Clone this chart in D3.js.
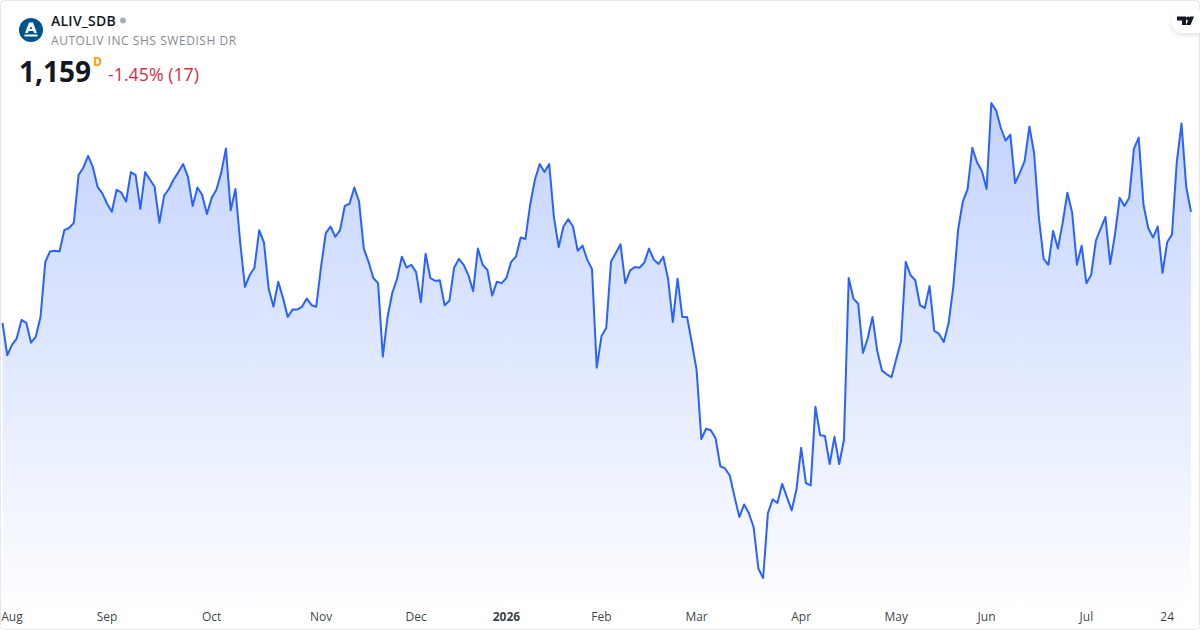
<!DOCTYPE html>
<html>
<head>
<meta charset="utf-8">
<title>ALIV_SDB</title>
<script src="https://cdn.jsdelivr.net/npm/d3@7"></script>
<style>
  html, body { margin: 0; padding: 0; background: #fff; }
  svg { display: block; font-family: "Open Sans", sans-serif; }
</style>
</head>
<body>
<div id="chart"></div>
<script>
// closing prices, one per trading day
var prices = [
  1083.5, 1061.5, 1068.5, 1073, 1085.5, 1083.5, 1070, 1074, 1087.5, 1125, 1132, 1132.5, 1132, 1146.5, 1148, 1151.5,
  1184, 1189, 1197, 1189.5, 1176, 1171.5, 1164.5, 1159, 1174, 1172, 1166, 1186, 1184, 1161, 1186, 1181,
  1176, 1151.5, 1170, 1174.5, 1181, 1186, 1191.5, 1183, 1163, 1175.5, 1170.5, 1157.5, 1168.5, 1174, 1185.5, 1202,
  1160, 1174.5, 1138, 1108, 1116, 1121, 1146.5, 1138, 1106.5, 1094.5, 1111.5, 1100.5, 1087.5, 1092.5, 1092.5,
  1094.5, 1100, 1095.5, 1094.5, 1121.5, 1144.5, 1149, 1142, 1146.5, 1163, 1164.5, 1175.5, 1166, 1134, 1125, 1114,
  1110.5, 1060.5, 1087.5, 1104, 1113.5, 1128.5, 1121, 1123, 1118, 1097.5, 1130.5, 1114, 1112, 1112.5, 1095.5, 1098.5,
  1121, 1127, 1123, 1116, 1105, 1134, 1123, 1119.5, 1102, 1111.5, 1110.5, 1114, 1125, 1128.5, 1141.5, 1140.5,
  1164, 1181, 1191.5, 1186, 1191.5, 1155, 1135, 1149, 1154, 1149, 1132.5, 1136, 1126.5, 1120, 1053,
  1074.5, 1080, 1125, 1131, 1137, 1110.5, 1119, 1121.5, 1121, 1124.5, 1134, 1126.5, 1123.5, 1128.5, 1113.5, 1084,
  1113.5, 1087.5, 1087.5, 1070, 1051.5, 1004.5, 1011.5, 1010.5, 1005, 986, 984.5, 979.5, 965, 951.5, 960, 954,
  944.5, 916.5, 910, 954, 963.5, 961, 974, 965, 956, 970, 998.5, 974.5, 973, 1026.5, 1007, 1006.5,
  987.5, 1006, 987.5, 1004, 1114, 1100, 1096.5, 1063, 1073, 1087.5, 1064.5, 1051, 1048.5,
  1046.5, 1059, 1071, 1125, 1116, 1112.5, 1095.5, 1093.5, 1108.5, 1078, 1076, 1070.5, 1083, 1108, 1146.5, 1166,
  1174.5, 1202.5, 1192.5, 1187, 1174.5, 1233, 1228, 1216, 1207.5, 1211.5, 1178.5, 1185.5, 1193.5, 1217, 1199, 1155,
  1127, 1123, 1146, 1134, 1151.5, 1172, 1158.5, 1123, 1136, 1110.5, 1116, 1139.5, 1147.5, 1155.5, 1123.5, 1143.5,
  1168.5, 1163, 1168.5, 1202, 1209.5, 1164, 1148, 1141.5, 1149, 1117.5, 1138.5, 1143.5, 1192.5, 1219, 1176, 1159
];

// trading day index of each time axis label
var tickDays = [2, 22, 44, 67, 87, 106, 126, 146, 168, 188, 207, 228, 245];
var tickLabels = ['Aug', 'Sep', 'Oct', 'Nov', 'Dec', '2026', 'Feb', 'Mar', 'Apr', 'May', 'Jun', 'Jul', '24'];

var WIDTH = 1200;
var HEIGHT = 630;
var LINE_COLOR = '#2962ff';

var x = d3.scaleLinear()
  .domain([0, prices.length - 1])
  .range([2.5, 1191]);

var y = d3.scaleLinear()
  .domain([910, 1233])
  .range([578, 103]);

var svg = d3.select('#chart').append('svg')
  .attr('width', WIDTH)
  .attr('height', HEIGHT);

var defs = svg.append('defs');

var gradient = defs.append('linearGradient')
  .attr('id', 'fill')
  .attr('gradientUnits', 'userSpaceOnUse')
  .attr('x1', 0).attr('x2', 0)
  .attr('y1', 103).attr('y2', 603);
gradient.append('stop').attr('offset', 0)
  .attr('stop-color', LINE_COLOR).attr('stop-opacity', 0.28);
gradient.append('stop').attr('offset', 1)
  .attr('stop-color', LINE_COLOR).attr('stop-opacity', 0.01);

var shadow = defs.append('filter')
  .attr('id', 'pill-shadow')
  .attr('x', '-30%').attr('y', '-30%')
  .attr('width', '160%').attr('height', '180%');
shadow.append('feDropShadow')
  .attr('dx', 0).attr('dy', 2).attr('stdDeviation', 2)
  .attr('flood-color', '#000').attr('flood-opacity', 0.12);

var area = d3.area()
  .x(function (d, i) { return x(i); })
  .y0(603)
  .y1(function (d) { return y(d); });

var line = d3.line()
  .x(function (d, i) { return x(i); })
  .y(function (d) { return y(d); });

svg.append('path')
  .datum(prices)
  .attr('d', area)
  .attr('fill', 'url(#fill)');

svg.append('path')
  .datum(prices)
  .attr('d', line)
  .attr('fill', 'none')
  .attr('stroke', LINE_COLOR)
  .attr('stroke-width', 2)
  .attr('stroke-linejoin', 'round');

// time axis
var axis = d3.axisBottom(x)
  .tickValues(tickDays)
  .tickFormat(function (d, i) { return tickLabels[i]; })
  .tickSize(0)
  .tickPadding(0);

var axisGroup = svg.append('g')
  .attr('transform', 'translate(-0.5,612.5)')
  .call(axis);

axisGroup.select('.domain').remove();
axisGroup.selectAll('text')
  .attr('font-family', '"Open Sans", sans-serif')
  .attr('font-size', 12)
  .attr('fill', '#131722')
  .attr('fill-opacity', 0.85)
  .attr('font-weight', function (d, i) { return tickLabels[i] === '2026' ? 700 : 400; });

// frame
svg.append('rect')
  .attr('x', 0.5).attr('y', 0.5)
  .attr('width', WIDTH - 1).attr('height', HEIGHT - 1)
  .attr('rx', 4)
  .attr('fill', 'none')
  .attr('stroke', '#e6e8ee');

// header
var logo = svg.append('g').attr('transform', 'translate(31,30)');
logo.append('circle').attr('r', 12).attr('fill', '#00528f');
logo.append('path')
  .attr('d', 'M-2 -7.5H2L6 3H3L2.4 1H-2.4L-3 3H-6ZM0 -3.8L-1.4 -1H1.4Z')
  .attr('fill', '#fff')
  .attr('fill-rule', 'evenodd');
logo.append('rect')
  .attr('x', -6.5).attr('y', 4.5)
  .attr('width', 13).attr('height', 2)
  .attr('fill', '#fff');

svg.append('text')
  .attr('x', 51).attr('y', 26)
  .attr('font-size', 14)
  .attr('font-weight', 600)
  .attr('letter-spacing', 0.25)
  .attr('fill', '#131722')
  .text('ALIV_SDB');

svg.append('circle')
  .attr('cx', 123).attr('cy', 20.5).attr('r', 3)
  .attr('fill', '#a8abb3');

svg.append('text')
  .attr('x', 51).attr('y', 45)
  .attr('font-size', 12)
  .attr('letter-spacing', 0.55)
  .attr('fill', '#868993')
  .text('AUTOLIV INC SHS SWEDISH DR');

svg.append('text')
  .attr('x', 19).attr('y', 82)
  .attr('font-size', 28)
  .attr('font-weight', 700)
  .attr('fill', '#131722')
  .text('1,159');

svg.append('text')
  .attr('x', 93).attr('y', 66)
  .attr('font-size', 12)
  .attr('font-weight', 700)
  .attr('fill', '#ff9800')
  .text('D');

svg.append('text')
  .attr('x', 108).attr('y', 81)
  .attr('font-size', 17.8)
  .attr('fill', '#d32f3f')
  .text('-1.45% (17)');

// logo pill, top right
svg.append('path')
  .attr('d', 'M1200 10H1183a11.5 11.5 0 0 0 0 23H1200Z')
  .attr('fill', '#fff')
  .attr('filter', 'url(#pill-shadow)');

var mark = svg.append('g').attr('transform', 'translate(1177,16)').attr('fill', '#131722');
mark.append('path').attr('d', 'M0 0.5H9V9H5V4.5H0Z');
mark.append('circle').attr('cx', 11).attr('cy', 2.5).attr('r', 2);
mark.append('path').attr('d', 'M13 0.5H17L13.5 9H9Z');
</script>
</body>
</html>
